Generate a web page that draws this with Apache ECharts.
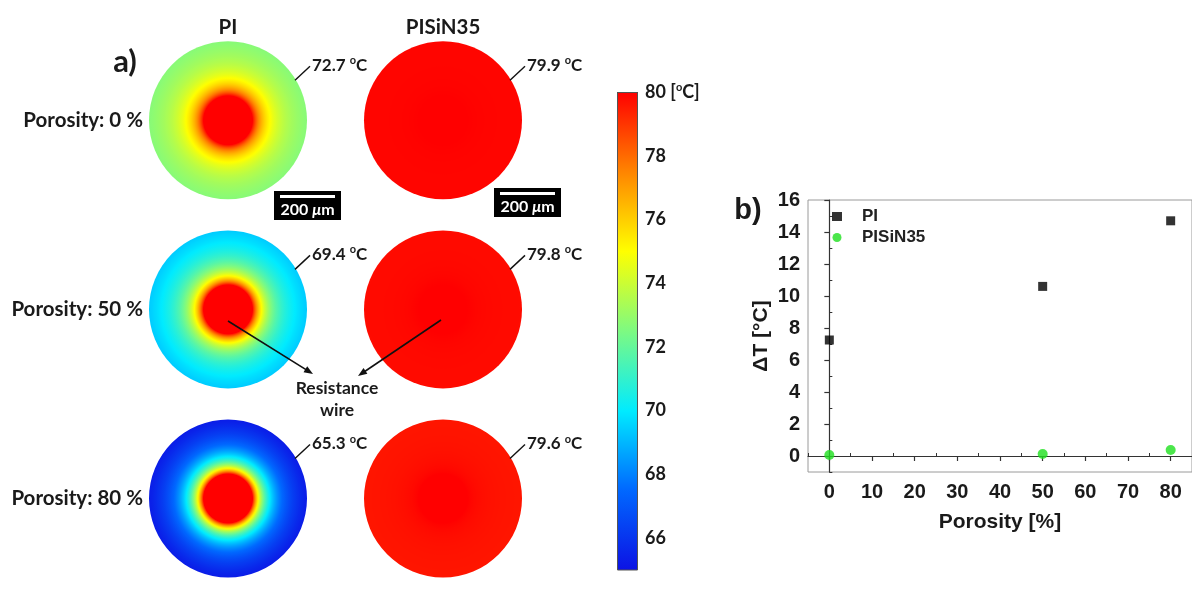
<!DOCTYPE html>
<html><head><meta charset="utf-8">
<script src="https://cdn.jsdelivr.net/npm/echarts@6/dist/echarts.min.js"></script>
<style>html,body{margin:0;padding:0;background:#fff}#c{width:1192px;height:593px}</style>
</head><body><div id="c"></div>
<script>
// ---------------- data ----------------
const materials = ['PI', 'PISiN35'];
const porosities = [0, 50, 80];
const edgeTempPI = [72.7, 69.4, 65.3];
const edgeTempPISiN35 = [79.9, 79.8, 79.6];
const wireTemp = 80;
const deltaTPI = [7.25, 10.6, 14.7];
const deltaTPISiN35 = [0.06, 0.13, 0.38];
const colorbarTicks = [66, 68, 70, 72, 74, 76, 78, 80];
const scatterXTicks = [0, 10, 20, 30, 40, 50, 60, 70, 80];
const scatterXMinor = [-5, 5, 15, 25, 35, 45, 55, 65, 75];
const scatterYTicks = [0, 2, 4, 6, 8, 10, 12, 14, 16];
const scatterYMinor = [-1, 1, 3, 5, 7, 9, 11, 13, 15];

// ---------------- colour map ----------------
const cbMin = 65, cbMax = 80;
const cmap = [
  [0.000, [12, 18, 228]],
  [0.170, [0, 105, 255]],
  [0.333, [0, 235, 255]],
  [0.500, [125, 250, 130]],
  [0.667, [255, 255, 0]],
  [0.830, [255, 135, 0]],
  [1.000, [255, 0, 0]]
];
function rgb(c) { return 'rgb(' + c.map(v => Math.round(v)).join(',') + ')'; }
function tempColor(T) {
  let t = (T - cbMin) / (cbMax - cbMin);
  t = Math.max(0, Math.min(1, t));
  for (let i = 0; i < cmap.length - 1; i++) {
    const a = cmap[i], b = cmap[i + 1];
    if (t <= b[0]) {
      const u = (t - a[0]) / (b[0] - a[0]);
      return rgb(a[1].map((v, k) => v + (b[1][k] - v) * u));
    }
  }
  return rgb(cmap[cmap.length - 1][1]);
}
function discGradient(Tedge) {
  const rc = 0.31, p = 1.6;
  const stops = [{offset: 0, color: tempColor(wireTemp)}, {offset: rc, color: tempColor(wireTemp)}];
  const e = Math.pow(rc, p);
  const N = 60;
  for (let k = 1; k <= N; k++) {
    const r = rc + (1 - rc) * k / N;
    const f = (Math.pow(rc / r, p) - e) / (1 - e);
    stops.push({offset: r, color: tempColor(Tedge + (wireTemp - Tedge) * f)});
  }
  return {type: 'radial', x: 0.5, y: 0.5, r: 0.5, colorStops: stops};
}

const discData = [];
porosities.forEach((p, i) => {
  discData.push([0, i, edgeTempPI[i]]);
  discData.push([1, i, edgeTempPISiN35[i]]);
});

const fa = 'Lato';
const fb = 'Liberation Sans';
const ink = '#1a1a1a';

const chart = echarts.init(document.getElementById('c'));

function arrow(x1, y1, x2, y2) {
  const dx = x2 - x1, dy = y2 - y1, L = Math.hypot(dx, dy);
  const ux = dx / L, uy = dy / L, nx = -uy, ny = ux;
  const hl = 9, hw = 3.5;
  return [
    {type: 'line', z: 100, shape: {x1, y1, x2: x2 - ux * hl * 0.6, y2: y2 - uy * hl * 0.6}, style: {stroke: '#111', lineWidth: 1.6}},
    {type: 'polygon', z: 100, shape: {points: [[x2, y2], [x2 - ux * hl + nx * hw, y2 - uy * hl + ny * hw], [x2 - ux * hl - nx * hw, y2 - uy * hl - ny * hw]]}, style: {fill: '#111'}}
  ];
}
function scaleBar(x, y) {
  return [
    {type: 'rect', z: 100, shape: {x, y, width: 67, height: 29}, style: {fill: '#000'}},
    {type: 'rect', z: 101, shape: {x: x + 6, y: y + 4, width: 55, height: 3}, style: {fill: '#fff'}},
    {type: 'text', z: 101, style: {x: x + 33.5, y: y + 19, text: '{a|200 }{b|μ}{a|m}', align: 'center', verticalAlign: 'middle',
      rich: {a: {fontFamily: fa, fontWeight: 'bold', fontSize: 16, fill: '#fff', color: '#fff'},
             b: {fontFamily: fa, fontWeight: 'bold', fontStyle: 'italic', fontSize: 16, fill: '#fff', color: '#fff'}}}}
  ];
}

const option = {
  animation: false,
  backgroundColor: '#fff',
  grid: [
    {left: 120.5, top: 25.75, width: 430, height: 583.5},
    {left: 617, top: 92, width: 21, height: 478},
    {left: 808, top: 200, width: 390, height: 272, show: true, borderColor: '#9a9a9a', borderWidth: 1}
  ],
  xAxis: [
    {gridIndex: 0, type: 'category', data: materials, position: 'top',
     axisLine: {show: false}, axisTick: {show: false}, splitLine: {show: false},
     axisLabel: {margin: -12, fontFamily: fa, fontWeight: 'bold', fontSize: 20.5, color: ink}},
    {gridIndex: 1, type: 'category', data: ['cb'], show: false},
    {gridIndex: 2, type: 'value', min: -5, max: 85,
     axisLine: {show: true, lineStyle: {color: '#333', width: 1.2}},
     axisTick: {show: true, customValues: scatterXTicks, length: 5, lineStyle: {color: '#333', width: 1.2}},
     axisLabel: {customValues: scatterXTicks, margin: 10, fontFamily: fb, fontWeight: 'bold', fontSize: 20, color: ink},
     splitLine: {show: false},
     name: 'Porosity [%]', nameLocation: 'middle', nameGap: 40,
     nameTextStyle: {fontFamily: fb, fontWeight: 'bold', fontSize: 21, color: ink}},
    {gridIndex: 2, type: 'value', min: -5, max: 85,
     axisLine: {show: false},
     axisTick: {show: true, customValues: scatterXMinor, length: 3, lineStyle: {color: '#333', width: 1}},
     axisLabel: {show: false}, splitLine: {show: false}}
  ],
  yAxis: [
    {gridIndex: 0, type: 'category', data: porosities.map(String), inverse: true, offset: -26.5,
     axisLine: {show: false}, axisTick: {show: false}, splitLine: {show: false},
     axisLabel: {formatter: 'Porosity: {value} %', margin: 4, fontFamily: fa, fontWeight: 'bold', fontSize: 20.5, color: ink}},
    {gridIndex: 1, type: 'value', min: cbMin, max: cbMax, position: 'right',
     axisLine: {show: false}, splitLine: {show: false},
     axisTick: {show: true, inside: true, length: 4, customValues: colorbarTicks, lineStyle: {color: '#444'}},
     axisLabel: {customValues: colorbarTicks, margin: 7, fontFamily: fa, fontWeight: 'bold', fontSize: 18, color: ink,
       formatter: v => v === cbMax ? '{n|' + v + ' [}{s|o}{n|C]}' : '{n|' + v + '}',
       rich: {n: {fontFamily: fa, fontWeight: 'bold', fontSize: 18, color: ink, lineHeight: 20},
              s: {fontFamily: fa, fontWeight: 'bold', fontSize: 11, color: ink, verticalAlign: 'top', lineHeight: 20}}}},
    {gridIndex: 1, type: 'value', min: cbMin, max: cbMax, position: 'left',
     axisLine: {show: false}, splitLine: {show: false},
     axisTick: {show: true, inside: true, length: 4, customValues: colorbarTicks, lineStyle: {color: '#444'}},
     axisLabel: {show: false}},
    {gridIndex: 2, type: 'value', min: -1, max: 16,
     axisLine: {show: true, lineStyle: {color: '#333', width: 1.2}},
     axisTick: {show: true, customValues: scatterYTicks, length: 5, lineStyle: {color: '#333', width: 1.2}},
     axisLabel: {customValues: scatterYTicks, margin: 8, fontFamily: fb, fontWeight: 'bold', fontSize: 20, color: ink},
     splitLine: {show: false},
     name: 'ΔT [°C]', nameLocation: 'middle', nameGap: 36, nameRotate: 90,
     nameTextStyle: {fontFamily: fb, fontWeight: 'bold', fontSize: 21, color: ink}},
    {gridIndex: 2, type: 'value', min: -1, max: 16,
     axisLine: {show: false},
     axisTick: {show: true, customValues: scatterYMinor, length: 3, lineStyle: {color: '#333', width: 1}},
     axisLabel: {show: false}, splitLine: {show: false}}
  ],
  legend: {
    data: ['PI', 'PISiN35'], orient: 'vertical', left: 827, top: 203,
    itemWidth: 10, itemHeight: 9, itemGap: 4,
    textStyle: {fontFamily: fb, fontWeight: 'bold', fontSize: 17, color: '#222', padding: [0, 0, 0, 15]}
  },
  series: [
    {type: 'custom', xAxisIndex: 0, yAxisIndex: 0, data: discData, silent: true,
     renderItem: function (params, api) {
       const c = api.coord([api.value(0), api.value(1)]);
       const T = api.value(2);
       const R = 79;
       return {type: 'group', children: [
         {type: 'circle', shape: {cx: c[0], cy: c[1], r: R}, style: {fill: discGradient(T)}},
         {type: 'line', shape: {x1: c[0] + 67, y1: c[1] - 40, x2: c[0] + 82, y2: c[1] - 54}, style: {stroke: '#111', lineWidth: 1.4}},
         {type: 'text', style: {x: c[0] + 84, y: c[1] - 55, align: 'left', verticalAlign: 'middle',
           text: '{n|' + T.toFixed(1) + ' }{s|o}{n|C}',
           rich: {n: {fontFamily: fa, fontWeight: 'bold', fontSize: 17, fill: ink, lineHeight: 20},
                  s: {fontFamily: fa, fontWeight: 'bold', fontSize: 11, fill: ink, verticalAlign: 'top', lineHeight: 20}}}}
       ]};
     }},
    {type: 'bar', xAxisIndex: 1, yAxisIndex: 1, data: [cbMax], barWidth: '100%', silent: true,
     itemStyle: {color: new echarts.graphic.LinearGradient(0, 1, 0, 0, cmap.map(s => ({offset: s[0], color: rgb(s[1])}))),
                 borderColor: '#555', borderWidth: 1}},
    {type: 'scatter', name: 'PI', xAxisIndex: 2, yAxisIndex: 3, symbol: 'rect', symbolSize: 9,
     itemStyle: {color: '#000'}, data: porosities.map((p, i) => [p, deltaTPI[i]])},
    {type: 'scatter', name: 'PISiN35', xAxisIndex: 2, yAxisIndex: 3, symbol: 'circle', symbolSize: 10,
     itemStyle: {color: '#1ee01e'}, data: porosities.map((p, i) => [p, deltaTPISiN35[i]])}
  ],
  graphic: [
    {type: 'text', z: 100, style: {x: 125, y: 62, text: 'a)', align: 'center', verticalAlign: 'middle', fontFamily: fa, fontWeight: 'bold', fontSize: 31, fill: ink}},
    {type: 'text', z: 100, style: {x: 748, y: 211, text: 'b)', align: 'center', verticalAlign: 'middle', fontFamily: fb, fontWeight: 'bold', fontSize: 29, fill: ink}},
    {type: 'text', z: 100, style: {x: 337, y: 388, text: 'Resistance', align: 'center', verticalAlign: 'middle', fontFamily: fa, fontWeight: 'bold', fontSize: 17.5, fill: ink}},
    {type: 'text', z: 100, style: {x: 337, y: 410, text: 'wire', align: 'center', verticalAlign: 'middle', fontFamily: fa, fontWeight: 'bold', fontSize: 17.5, fill: ink}},
    ...arrow(228, 321, 313, 374),
    ...arrow(441, 320, 358, 376),
    ...scaleBar(274, 191),
    ...scaleBar(494, 188)
  ]
};
chart.setOption(option);
</script>
</body></html>
